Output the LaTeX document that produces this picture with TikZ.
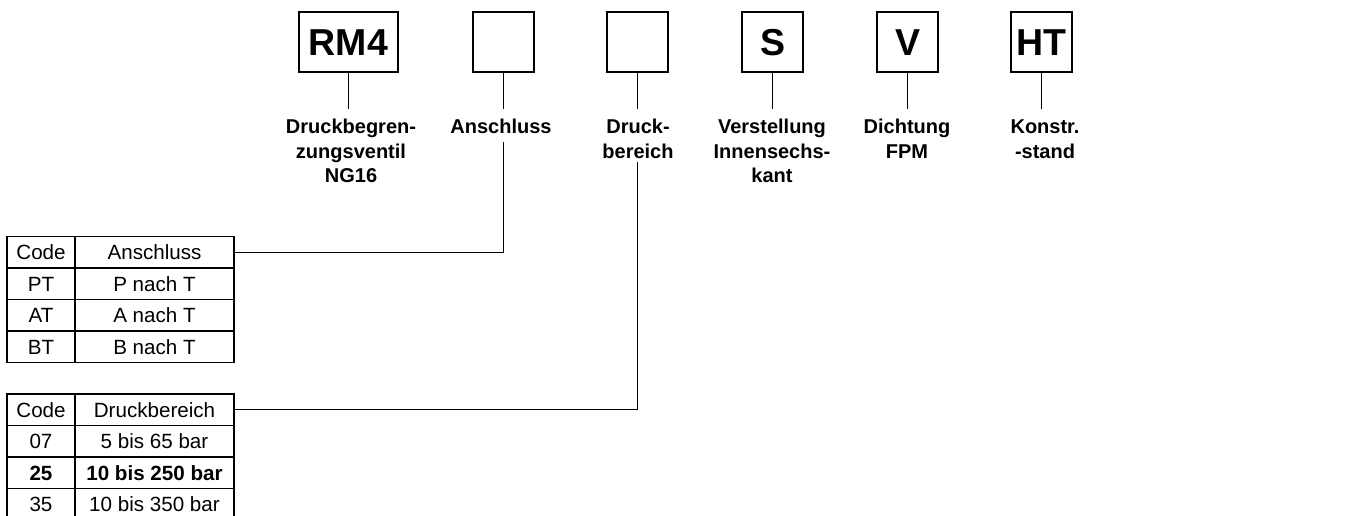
\documentclass[tikz,border=0pt]{standalone}
\usepackage{fontspec}
\setmainfont{Liberation Sans}
\begin{document}
\begin{tikzpicture}[x=1pt,y=-1pt,line width=1.1pt,
  codebox/.style={draw, minimum width=61pt, minimum height=60pt, inner sep=0pt, text height=27pt, text depth=0pt, font=\fontsize{37.5}{40}\selectfont\bfseries},
  lab/.style={anchor=north, align=center, inner sep=0pt, font=\fontsize{20}{24.5}\selectfont\bfseries},
  cell/.style={draw, minimum height=31.5pt, inner sep=0pt, text height=14.8pt, text depth=0pt, font=\fontsize{20.6}{24}\selectfont},
  cellA/.style={cell, minimum width=68pt},
  cellB/.style={cell, minimum width=159pt},
]
\useasboundingbox (0,0) rectangle (1348,515);
\clip (0,0) rectangle (1348,515);
% code boxes
\node[codebox, minimum width=99pt] (rm4) at (348.5,42) {RM4};
\node[codebox] (an) at (503.5,42) {};
\node[codebox] (dr) at (637.5,42) {};
\node[codebox] (s) at (772.5,42) {S};
\node[codebox] (v) at (907.5,42) {V};
\node[codebox] (ht) at (1041.5,42) {HT};
% labels
\node[lab] (l1) at (351,118.5) {Druckbegren-\\zungsventil\\NG16};
\node[lab] (l2) at (501,118.5) {Anschluss};
\node[lab] (l3) at (638,118.5) {Druck-\\bereich};
\node[lab] (l4) at (772,118.5) {Verstellung\\Innensechs-\\kant};
\node[lab] (l5) at (907,118.5) {Dichtung\\FPM};
\node[lab] (l6) at (1045,118.5) {Konstr.\vphantom{k}\\-stand};
% short connectors
\foreach \b in {rm4,an,dr,s,v,ht} \draw (\b.south) -- ++(0,36);
% table 1
\node[cellA] (t1a0) at (41,252.25) {Code};
\node[cellB] (t1h) at (154.5,252.25) {Anschluss};
\node[cellA] (t1a1) at (41,283.75) {PT};
\node[cellB] (t1b1) at (154.5,283.75) {P nach T};
\node[cellA] (t1a2) at (41,315.25) {AT};
\node[cellB] (t1b2) at (154.5,315.25) {A nach T};
\node[cellA] (t1a3) at (41,346.75) {BT};
\node[cellB] (t1b3) at (154.5,346.75) {B nach T};
% table 2
\node[cellA] (t2a0) at (41,409.75) {Code};
\node[cellB] (t2h) at (154.5,409.75) {Druckbereich};
\node[cellA] (t2a1) at (41,441.25) {07};
\node[cellB] (t2b1) at (154.5,441.25) {5 bis 65 bar};
\node[cellA,font=\fontsize{20.6}{24}\selectfont\bfseries] (t2a2) at (41,472.75) {25};
\node[cellB,font=\fontsize{20.6}{24}\selectfont\bfseries] (t2b2) at (154.5,472.75) {10 bis 250 bar};
\node[cellA] (t2a3) at (41,504.25) {35};
\node[cellB] (t2b3) at (154.5,504.25) {10 bis 350 bar};
% long connectors
\coordinate (antop) at (503.5,142);
\coordinate (drtop) at (637.5,162);
\draw (t1h.east) -| (antop);
\draw (t2h.east) -| (drtop);
\end{tikzpicture}
\end{document}
